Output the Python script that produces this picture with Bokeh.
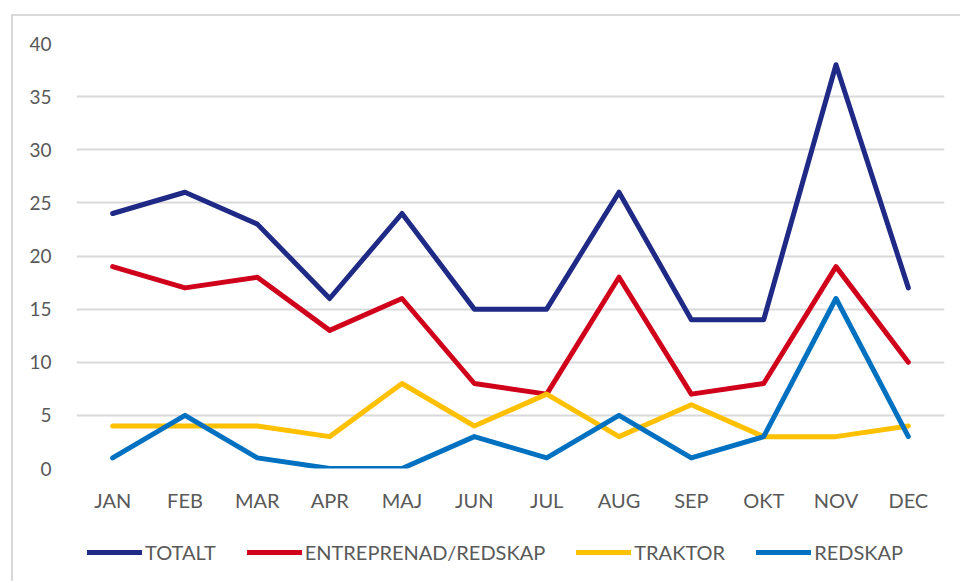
from bokeh.plotting import figure
from bokeh.layouts import column
from bokeh.models import FactorRange, Range1d, FixedTicker, Legend, LegendItem
from bokeh.embed import file_html
from bokeh.resources import INLINE

months = ["JAN", "FEB", "MAR", "APR", "MAJ", "JUN", "JUL", "AUG", "SEP", "OKT", "NOV", "DEC"]
totalt = [24, 26, 23, 16, 24, 15, 15, 26, 14, 14, 38, 17]
entreprenad = [19, 17, 18, 13, 16, 8, 7, 18, 7, 8, 19, 10]
traktor = [4, 4, 4, 3, 8, 4, 7, 3, 6, 3, 3, 4]
redskap = [1, 5, 1, 0, 0, 3, 1, 5, 1, 3, 16, 3]
y_ticks = [0, 5, 10, 15, 20, 25, 30, 35, 40]

series = [
    ("TOTALT", totalt, "#1F2A86"),
    ("ENTREPRENAD/REDSKAP", entreprenad, "#D0021B"),
    ("TRAKTOR", traktor, "#FFC000"),
    ("REDSKAP", redskap, "#0070C0"),
]

FONT = "Lato"
GREY = "#595959"

p = figure(width=949, height=509, output_backend="svg", toolbar_location=None,
           x_range=FactorRange(*months, range_padding=0), y_range=Range1d(0, 40),
           min_border_left=63, min_border_right=18, min_border_top=27, min_border_bottom=57)
p.outline_line_color = None
p.background_fill_color = "white"
p.border_fill_color = "white"

p.xgrid.grid_line_color = None
p.ygrid.grid_line_color = "#d9d9d9"
p.ygrid.grid_line_width = 2

p.yaxis.ticker = FixedTicker(ticks=y_ticks)
for ax in (p.xaxis[0], p.yaxis[0]):
    ax.axis_line_color = None
    ax.major_tick_line_color = None
    ax.minor_tick_line_color = None
    ax.major_label_text_font = FONT
    ax.major_label_text_color = GREY
p.xaxis.major_label_text_font_size = "20px"
p.xaxis.major_label_standoff = 13
p.yaxis.major_label_text_font_size = "19px"
p.yaxis.major_label_standoff = 19

for name, vals, color in series:
    p.line(months, vals, line_color=color, line_width=5, line_cap="round", line_join="round")

# legend strip below the chart (its swatch lines sit outside the visible range)
lg = figure(width=949, height=58, output_backend="svg", toolbar_location=None,
            x_axis_location=None, y_axis_location=None,
            x_range=Range1d(0, 1), y_range=Range1d(0, 1),
            min_border_left=0, min_border_right=0, min_border_top=0, min_border_bottom=0)
lg.outline_line_color = None
lg.grid.grid_line_color = None
lg.border_fill_color = "white"
lg.background_fill_color = "white"

items = []
for name, vals, color in series:
    r = lg.line(x=[5, 6], y=[5, 6], line_color=color, line_width=5, line_cap="round")
    items.append(LegendItem(label=name, renderers=[r]))

legend = Legend(items=items, orientation="horizontal", location=(11, 19),
                glyph_width=55, glyph_height=20, label_standoff=3, spacing=31,
                label_text_font=FONT, label_text_font_size="20px", label_text_color=GREY,
                border_line_color=None, background_fill_alpha=0, padding=5, margin=0)
lg.add_layout(legend, "center")

layout = column(p, lg, spacing=0)
layout.styles = {"position": "relative", "left": "13px", "top": "16px",
                 "box-shadow": "-2px -2px 0px 0px #d9d9d9"}

open("out.html", "w").write(file_html(layout, INLINE))
